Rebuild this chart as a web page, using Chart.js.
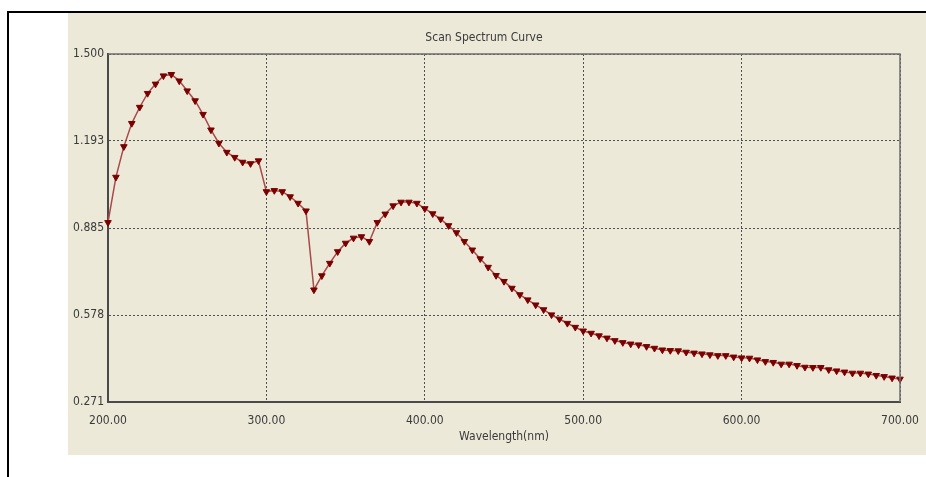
<!DOCTYPE html>
<html>
<head>
<meta charset="utf-8">
<script src="https://cdn.jsdelivr.net/npm/chart.js@4.4.1/dist/chart.umd.min.js"></script>
<style>
  html, body { margin: 0; padding: 0; background: #ffffff; overflow: hidden; }
  body { width: 926px; height: 477px; position: relative; }
  #marco {
    position: absolute; left: 7px; top: 11px;
    width: 1000px; height: 600px;
    border: 2px solid #000000;
  }
  #panel {
    position: absolute; left: 68px; top: 13px;
    width: 858px; height: 442px;
    background: #ece9d8;
  }
  #spectrum-chart { position: absolute; left: 0; top: 0; }
</style>
</head>
<body>
<div id="marco"></div>
<div id="panel">
  <canvas id="spectrum-chart" width="858" height="442"></canvas>
</div>
<script>
/**
 * Scan spectrum curve
 */

const wavelengths = [
  200, 205, 210, 215, 220, 225, 230, 235, 240, 245,
  250, 255, 260, 265, 270, 275, 280, 285, 290, 295,
  300, 305, 310, 315, 320, 325, 330, 335, 340, 345,
  350, 355, 360, 365, 370, 375, 380, 385, 390, 395,
  400, 405, 410, 415, 420, 425, 430, 435, 440, 445,
  450, 455, 460, 465, 470, 475, 480, 485, 490, 495,
  500, 505, 510, 515, 520, 525, 530, 535, 540, 545,
  550, 555, 560, 565, 570, 575, 580, 585, 590, 595,
  600, 605, 610, 615, 620, 625, 630, 635, 640, 645,
  650, 655, 660, 665, 670, 675, 680, 685, 690, 695,
  700,
];

const absorbance = [
  0.905, 1.065, 1.173, 1.255, 1.312, 1.361, 1.394, 1.423, 1.428, 1.405,
  1.370, 1.335, 1.287, 1.232, 1.185, 1.153, 1.135, 1.118, 1.113, 1.123,
  1.014, 1.018, 1.014, 0.996, 0.973, 0.946, 0.667, 0.717, 0.761, 0.802,
  0.832, 0.850, 0.855, 0.838, 0.905, 0.935, 0.964, 0.977, 0.977, 0.973,
  0.954, 0.936, 0.917, 0.894, 0.869, 0.838, 0.808, 0.777, 0.747, 0.718,
  0.697, 0.673, 0.650, 0.632, 0.614, 0.597, 0.579, 0.564, 0.549, 0.535,
  0.522, 0.514, 0.505, 0.497, 0.488, 0.481, 0.476, 0.473, 0.467, 0.461,
  0.455, 0.453, 0.452, 0.447, 0.444, 0.441, 0.438, 0.435, 0.435, 0.430,
  0.427, 0.426, 0.420, 0.414, 0.411, 0.405, 0.405, 0.400, 0.394, 0.393,
  0.393, 0.385, 0.381, 0.377, 0.373, 0.373, 0.370, 0.365, 0.361, 0.356,
  0.352,
];

const xTicks = [200, 300, 400, 500, 600, 700];
const yTicks = [0.271, 0.578, 0.885, 1.193, 1.5];

const fuente = {
  family: "'Liberation Sans Narrow', 'DejaVu Sans Condensed', 'Arial Narrow', sans-serif",
  size: 12,
  weight: "normal",
};
const colorTexto = "#3a3a3a";

// borde de arriba y derecha del area del grafico
const bordeArea = {
  id: "bordeArea",
  afterDatasetsDraw(chart) {
    const { ctx, chartArea } = chart;
    ctx.save();
    ctx.strokeStyle = "#6e6e6e";
    ctx.lineWidth = 1.5;
    ctx.beginPath();
    ctx.moveTo(chartArea.left, chartArea.top);
    ctx.lineTo(chartArea.right, chartArea.top);
    ctx.lineTo(chartArea.right, chartArea.bottom);
    ctx.stroke();
    ctx.restore();
  },
};

const contenedorSpectrum = document
    .querySelector("#spectrum-chart")
    .getContext("2d");

const configSpectrum = {
  type: "line",
  data: {
    datasets: [
      {
        label: "Scan",
        data: wavelengths.map((w, i) => ({ x: w, y: absorbance[i] })),
        borderColor: "#a84a4a",
        borderWidth: 1.5,
        pointStyle: "triangle",
        rotation: 180,
        pointRadius: 3.8,
        pointBackgroundColor: "#7a0000",
        pointBorderColor: "#7a0000",
        pointBorderWidth: 1,
        tension: 0,
        clip: false,
      },
    ],
  },
  options: {
    responsive: false,
    devicePixelRatio: 1,
    animation: false,
    layout: { padding: { left: 0, right: 26, top: 0, bottom: 0 } },
    plugins: {
      legend: { display: false },
      tooltip: { enabled: false },
      title: {
        display: true,
        text: "Scan Spectrum Curve",
        color: colorTexto,
        font: fuente,
        padding: { top: 18, bottom: 8.6 },
      },
    },
    scales: {
      x: {
        type: "linear",
        min: 200,
        max: 700,
        afterBuildTicks: (scale) => {
          scale.ticks = xTicks.map((v) => ({ value: v }));
        },
        afterFit: (scale) => {
          scale.height = 53;
          scale.paddingLeft = 0;
          scale.paddingRight = 0;
        },
        ticks: {
          color: colorTexto,
          font: fuente,
          padding: 12,
          maxRotation: 0,
          autoSkip: false,
          callback: (v) => Number(v).toFixed(2),
        },
        grid: { color: "#505050", lineWidth: 1, drawTicks: false },
        border: { display: true, color: "#4a4a4a", width: 2, dash: [2, 2] },
        title: {
          display: true,
          text: "Wavelength(nm)",
          color: colorTexto,
          font: fuente,
          padding: { top: 0, bottom: 11 },
        },
      },
      y: {
        min: 0.271,
        max: 1.5,
        afterBuildTicks: (scale) => {
          scale.ticks = yTicks.map((v) => ({ value: v }));
        },
        afterFit: (scale) => {
          scale.width = 40;
          scale.paddingTop = 0;
          scale.paddingBottom = 0;
        },
        ticks: {
          color: colorTexto,
          font: fuente,
          padding: 4,
          autoSkip: false,
          callback: (v) => Number(v).toFixed(3),
        },
        grid: { color: "#505050", lineWidth: 1, drawTicks: false },
        border: { display: true, color: "#4a4a4a", width: 2, dash: [2, 2] },
      },
    },
  },
  plugins: [bordeArea],
};

const spectrumChart = new Chart(contenedorSpectrum, configSpectrum);
</script>
</body>
</html>
